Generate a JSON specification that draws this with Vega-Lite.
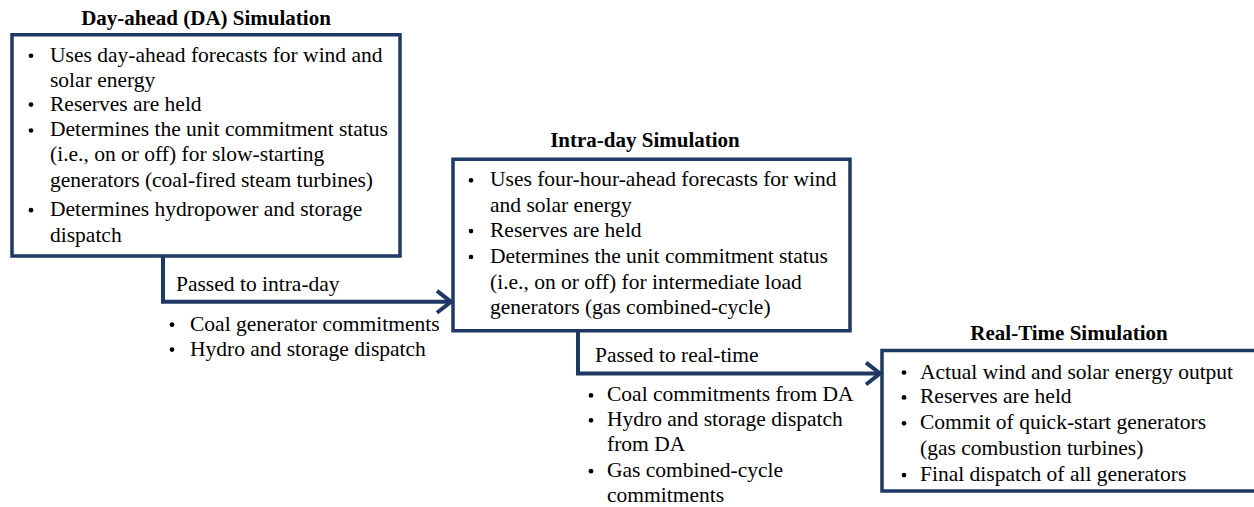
{
  "$schema": "https://vega.github.io/schema/vega-lite/v6.json",
  "width": 1254,
  "height": 507,
  "autosize": {"type": "fit", "contains": "padding"},
  "padding": 0,
  "background": "white",
  "view": {"stroke": null},
  "config": {"axis": {"disable": true}},
  "datasets": {
    "boxes": [
      {"b": "DA", "x": 12, "x2": 400, "y": 35, "y2": 257},
      {"b": "ID", "x": 453, "x2": 850, "y": 160, "y2": 332},
      {"b": "RT", "x": 882, "x2": 1262, "y": 352, "y2": 493}
    ],
    "lines": [
      {"g": "a1", "o": 1, "x": 163, "y": 257},
      {"g": "a1", "o": 2, "x": 163, "y": 303},
      {"g": "a1", "o": 3, "x": 450, "y": 303},
      {"g": "h1", "o": 1, "x": 437, "y": 292},
      {"g": "h1", "o": 2, "x": 451, "y": 303},
      {"g": "h1", "o": 3, "x": 437, "y": 314},
      {"g": "a2", "o": 1, "x": 578, "y": 332},
      {"g": "a2", "o": 2, "x": 578, "y": 375},
      {"g": "a2", "o": 3, "x": 879, "y": 375},
      {"g": "h2", "o": 1, "x": 866, "y": 364},
      {"g": "h2", "o": 2, "x": 880, "y": 375},
      {"g": "h2", "o": 3, "x": 866, "y": 386}
    ],
    "titles": [
      {"x": 206, "y": 19, "t": "Day-ahead (DA) Simulation"},
      {"x": 645, "y": 142, "t": "Intra-day Simulation"},
      {"x": 1069, "y": 335, "t": "Real-Time Simulation"}
    ],
    "bullets": [
      {"x": 31, "y": 56}, {"x": 31, "y": 105}, {"x": 31, "y": 131}, {"x": 31, "y": 211},
      {"x": 172, "y": 326}, {"x": 172, "y": 351},
      {"x": 471, "y": 181}, {"x": 471, "y": 232}, {"x": 471, "y": 258},
      {"x": 591, "y": 397}, {"x": 591, "y": 422}, {"x": 591, "y": 473},
      {"x": 904, "y": 374}, {"x": 904, "y": 399}, {"x": 904, "y": 425}, {"x": 904, "y": 477}
    ],
    "texts": [
      {"x": 50, "y": 56, "t": "Uses day-ahead forecasts for wind and"},
      {"x": 50, "y": 81, "t": "solar energy"},
      {"x": 50, "y": 105, "t": "Reserves are held"},
      {"x": 50, "y": 131, "t": "Determines the unit commitment status"},
      {"x": 50, "y": 156, "t": "(i.e., on or off) for slow-starting"},
      {"x": 50, "y": 182, "t": "generators (coal-fired steam turbines)"},
      {"x": 50, "y": 211, "t": "Determines hydropower and storage"},
      {"x": 50, "y": 237, "t": "dispatch"},
      {"x": 176, "y": 286, "t": "Passed to intra-day"},
      {"x": 190, "y": 326, "t": "Coal generator commitments"},
      {"x": 190, "y": 351, "t": "Hydro and storage dispatch"},
      {"x": 490, "y": 181, "t": "Uses four-hour-ahead forecasts for wind"},
      {"x": 490, "y": 207, "t": "and solar energy"},
      {"x": 490, "y": 232, "t": "Reserves are held"},
      {"x": 490, "y": 258, "t": "Determines the unit commitment status"},
      {"x": 490, "y": 284, "t": "(i.e., on or off) for intermediate load"},
      {"x": 490, "y": 309, "t": "generators (gas combined-cycle)"},
      {"x": 595, "y": 357, "t": "Passed to real-time"},
      {"x": 607, "y": 397, "t": "Coal commitments from DA"},
      {"x": 607, "y": 422, "t": "Hydro and storage dispatch"},
      {"x": 607, "y": 447, "t": "from DA"},
      {"x": 607, "y": 473, "t": "Gas combined-cycle"},
      {"x": 607, "y": 498, "t": "commitments"},
      {"x": 920, "y": 374, "t": "Actual wind and solar energy output"},
      {"x": 920, "y": 399, "t": "Reserves are held"},
      {"x": 920, "y": 425, "t": "Commit of quick-start generators"},
      {"x": 920, "y": 451, "t": "(gas combustion turbines)"},
      {"x": 920, "y": 477, "t": "Final dispatch of all generators"}
    ]
  },
  "layer": [
    {
      "data": {"name": "boxes"},
      "mark": {"type": "rect", "fill": "white", "stroke": "#1F3864", "strokeWidth": 3.5, "clip": true},
      "encoding": {
        "x": {"field": "x", "type": "quantitative", "scale": {"domain": [0, 1254], "nice": false, "zero": false}},
        "x2": {"field": "x2"},
        "y": {"field": "y", "type": "quantitative", "scale": {"domain": [0, 507], "nice": false, "zero": false, "reverse": true}},
        "y2": {"field": "y2"}
      }
    },
    {
      "data": {"name": "lines"},
      "mark": {"type": "line", "stroke": "#1F3864", "strokeWidth": 4, "strokeJoin": "miter", "strokeCap": "butt"},
      "encoding": {
        "x": {"field": "x", "type": "quantitative"},
        "y": {"field": "y", "type": "quantitative"},
        "detail": {"field": "g"},
        "order": {"field": "o"}
      }
    },
    {
      "data": {"name": "titles"},
      "mark": {"type": "text", "font": "Liberation Serif", "fontSize": 21, "fontWeight": "bold", "align": "center", "baseline": "middle", "color": "black"},
      "encoding": {
        "x": {"field": "x", "type": "quantitative"},
        "y": {"field": "y", "type": "quantitative"},
        "text": {"field": "t"}
      }
    },
    {
      "data": {"name": "bullets"},
      "mark": {"type": "point", "shape": "circle", "filled": true, "size": 22, "color": "black", "opacity": 1},
      "encoding": {
        "x": {"field": "x", "type": "quantitative"},
        "y": {"field": "y", "type": "quantitative"}
      }
    },
    {
      "data": {"name": "texts"},
      "mark": {"type": "text", "font": "Liberation Serif", "fontSize": 21.5, "align": "left", "baseline": "middle", "color": "black"},
      "encoding": {
        "x": {"field": "x", "type": "quantitative"},
        "y": {"field": "y", "type": "quantitative"},
        "text": {"field": "t"}
      }
    }
  ]
}
